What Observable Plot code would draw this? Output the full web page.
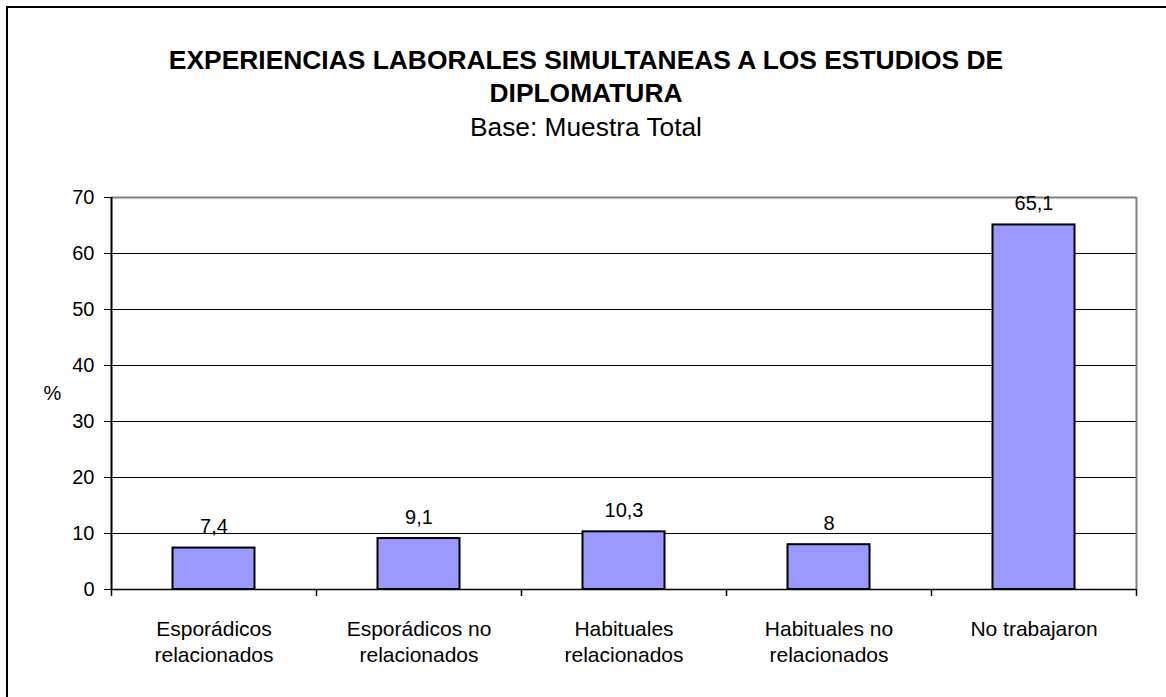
<!DOCTYPE html>
<html>
<head>
<meta charset="utf-8">
<script src="https://cdn.jsdelivr.net/npm/d3@7"></script>
<script src="https://cdn.jsdelivr.net/npm/@observablehq/plot@0.6"></script>
<style>
  html, body { margin: 0; padding: 0; background: #fff; }
  body { width: 1166px; height: 697px; position: relative; overflow: hidden; font-family: "Liberation Sans", Arial, sans-serif; }
  #frame { position: absolute; left: 6px; top: 6px; width: 1300px; height: 800px; border-left: 2px solid #000; border-top: 2px solid #000; }
  #header { position: absolute; left: 0; top: 44px; width: 1172px; text-align: center; color: #000; }
  #title { font-size: 26.4px; font-weight: bold; line-height: 33px; }
  #subtitle { font-size: 26.3px; line-height: 35px; }
  #chart { position: absolute; left: 0; top: 150px; }
</style>
</head>
<body>
<div id="frame"></div>
<div id="header">
  <div id="title">EXPERIENCIAS LABORALES SIMULTANEAS A LOS ESTUDIOS DE<br>DIPLOMATURA</div>
  <div id="subtitle">Base: Muestra Total</div>
</div>
<div id="chart"></div>
<script>
const categories = ["Esporádicos\nrelacionados", "Esporádicos no\nrelacionados", "Habituales\nrelacionados", "Habituales no\nrelacionados", "No trabajaron"];
const values = [7.4, 9.1, 10.3, 8, 65.1];
const yTicks = [0, 10, 20, 30, 40, 50, 60, 70];
const yLabel = "%";

const data = categories.map((c, i) => ({cat: c, pos: i, value: values[i]}));
const fmt = v => String(v).replace(".", ",");
const n = categories.length;
const yMax = d3.max(yTicks);

const W = 1166, H = 547, mL = 111, mR = 30, mT = 47, mB = 108;
const step = (W - mL - mR) / n;
const inset = step * 0.3;

const plot = Plot.plot({
  width: W, height: H,
  marginLeft: mL, marginRight: mR, marginTop: mT, marginBottom: mB,
  style: {fontFamily: '"Liberation Sans", Arial, sans-serif', color: "#000", background: "transparent", overflow: "visible"},
  x: {domain: [0, n]},
  y: {domain: [0, yMax]},
  marks: [
    Plot.ruleY(yTicks.filter(t => t > 0 && t < yMax), {stroke: "#000", strokeWidth: 1}),
    Plot.ruleY([yMax], {stroke: "#808080", strokeWidth: 2}),
    Plot.ruleX([n], {stroke: "#808080", strokeWidth: 2}),
    Plot.rectY(data, {x1: d => d.pos, x2: d => d.pos + 1, y1: 0, y2: "value", insetLeft: inset, insetRight: inset, fill: "#9999FF", stroke: "#000", strokeWidth: 2}),
    Plot.ruleY([0], {stroke: "#000", strokeWidth: 1.5}),
    Plot.ruleX([0], {stroke: "#000", strokeWidth: 2}),
    Plot.axisY({ticks: yTicks, tickSize: 7, tickPadding: 10, fontSize: 20, label: null, stroke: "#000"}),
    Plot.axisX({ticks: d3.range(n + 1), tickSize: 7, tickFormat: () => "", label: null, stroke: "#000", strokeWidth: 1.5}),
    Plot.axisX({ticks: data.map(d => d.pos + 0.5), tickSize: 0, tickPadding: 28, tickFormat: t => categories[Math.floor(t)], fontSize: 21, lineHeight: 1.24, label: null}),
    Plot.text(data, {x: d => d.pos + 0.5, y: "value", text: d => fmt(d.value), lineAnchor: "bottom", dy: -15, fontSize: 20, fill: "#000"}),
    Plot.text([yLabel], {frameAnchor: "left", dx: -68, text: d => d, fontSize: 20, fill: "#000"})
  ]
});
document.getElementById("chart").appendChild(plot);
</script>
</body>
</html>
